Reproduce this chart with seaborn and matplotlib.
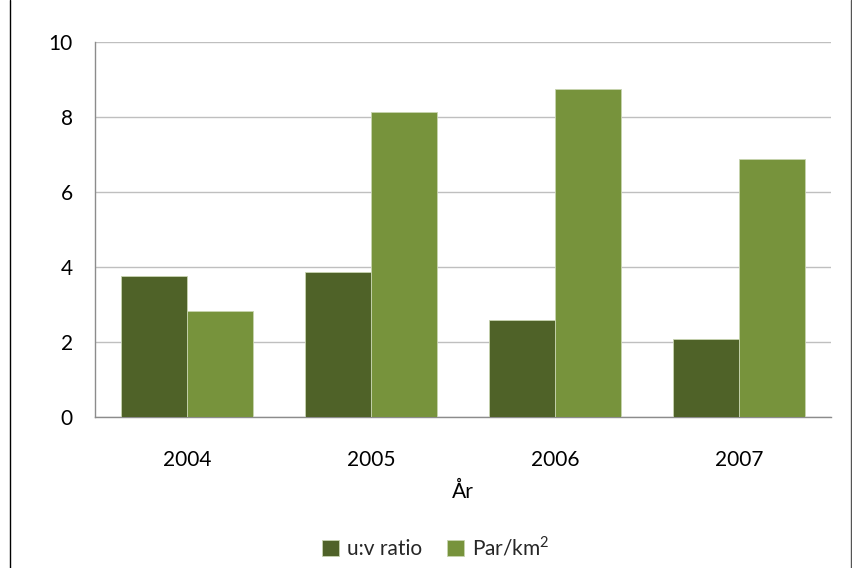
import pandas as pd
import matplotlib.pyplot as plt
import seaborn as sns
from matplotlib.lines import Line2D

# ==================== DATA ====================
years = ["2004", "2005", "2006", "2007"]
uv_ratio = [3.75, 3.88, 2.59, 2.08]
par_km2 = [2.82, 8.13, 8.75, 6.88]
series_names = ["u:v ratio", "Par/km$^2$"]
colors = ["#4F6228", "#77933C"]

df = pd.DataFrame({
    "År": years * 2,
    "value": uv_ratio + par_km2,
    "serie": [series_names[0]] * 4 + [series_names[1]] * 4,
})

# ==================== PLOT ====================
sns.set_style("white")
plt.rcParams["font.family"] = ["Lato", "DejaVu Sans"]
plt.rcParams["mathtext.fontset"] = "custom"
plt.rcParams["mathtext.rm"] = "Lato"

fig = plt.figure(figsize=(8.53, 5.68), dpi=100)
ax = fig.add_axes([95 / 853, 1 - 417 / 568, 736 / 853, 375 / 568])

sns.barplot(data=df, x="År", y="value", hue="serie", palette=colors,
            width=0.72, gap=0, saturation=1, edgecolor="#C8D4B0",
            linewidth=0.6, ax=ax, zorder=3)

ax.set_ylim(0, 10)
ax.set_yticks(range(0, 11, 2))
ax.yaxis.grid(True, color="#BFBFBF", linewidth=1, zorder=0)
ax.set_axisbelow(True)
ax.tick_params(axis="both", labelsize=15, length=0, labelcolor="black")
ax.tick_params(axis="x", pad=24)
ax.tick_params(axis="y", pad=16)
ax.set_ylabel("")
ax.set_xlabel("År", fontsize=15, labelpad=8, color="black")

for side in ["top", "right"]:
    ax.spines[side].set_visible(False)
for side in ["left", "bottom"]:
    ax.spines[side].set_color("#8C8C8C")
    ax.spines[side].set_linewidth(1)

handles, labels = ax.get_legend_handles_labels()
ax.get_legend().remove()
fig.legend(handles, labels, loc="center", bbox_to_anchor=(436 / 853, 1 - 547 / 568),
           ncol=2, frameon=False, fontsize=15, handlelength=0.8, handleheight=0.8,
           handletextpad=0.4, columnspacing=1.2)

# outer chart frame (cropped in the reference)
fig.add_artist(Line2D([10 / 853, 10 / 853], [0, 1], color="black", linewidth=1))
fig.add_artist(Line2D([851 / 853, 851 / 853], [0, 1], color="#555555", linewidth=1))

fig.savefig("out.png", dpi=100)
